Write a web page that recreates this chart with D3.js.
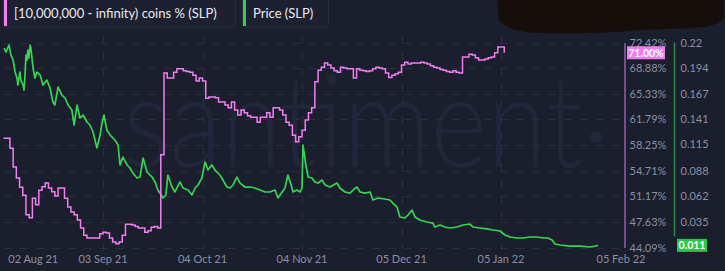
<!DOCTYPE html>
<html>
<head>
<meta charset="utf-8">
<script src="https://cdn.jsdelivr.net/npm/d3@7"></script>
<style>
html, body { margin: 0; padding: 0; background: #1b1e2c; }
svg { display: block; }
text { font-family: Lato, "Open Sans", sans-serif; }
</style>
</head>
<body>
<svg id="chart" width="725" height="271"></svg>
<script>
const svg = d3.select("#chart");
const width = +svg.attr("width");
const height = +svg.attr("height");

// daily share of supply held by [10,000,000 - infinity) wallets, from 2021-08-03
const coinPctStart = "2021-08-03";
const coinPct = [
    59.2, 59.2, 57.8, 55.2, 53.7, 52.4, 51.3, 48.6, 48.2, 50.9,
    50.0, 52.0, 52.5, 53.0, 52.3, 51.8, 51.2, 52.3, 52.3, 50.9,
    49.7, 49.0, 48.6, 47.9, 46.8, 45.8, 45.4, 45.4, 45.4, 45.4,
    46.0, 46.2, 46.1, 45.4, 44.85, 44.6, 44.85, 45.8, 47.3, 47.3,
    47.2, 47.0, 46.8, 46.8, 46.2, 46.4, 46.9, 47.0, 46.8, 56.9,
    68.2, 67.5, 67.5, 68.3, 68.8, 68.8, 68.5, 68.4, 68.3, 67.9,
    67.1, 67.5, 67.1, 64.7, 64.9, 64.9, 64.8, 64.2, 64.2, 63.8,
    63.4, 64.2, 63.1, 62.4, 63.1, 62.7, 62.3, 62.1, 62.1, 61.4,
    62.1, 62.1, 62.7, 62.1, 63.4, 63.4, 63.1, 62.4, 61.4, 61.0,
    59.6, 58.7, 59.4, 60.3, 61.7, 62.7, 63.4, 67.0, 68.6, 69.0,
    69.6, 69.3, 68.9, 68.5, 68.3, 69.0, 68.9, 68.8, 68.8, 67.5,
    68.8, 68.6, 68.5, 68.4, 68.5, 68.8, 69.0, 68.9, 68.8, 68.2,
    67.6, 67.9, 68.1, 68.3, 69.3, 69.7, 69.45, 69.6, 69.6, 69.6,
    69.7, 69.6, 69.45, 69.2, 69.0, 68.9, 68.7, 68.6, 68.4, 68.3,
    68.5, 68.3, 68.2, 70.4, 70.4, 70.8, 70.7, 70.3, 70.0, 70.0,
    70.15, 70.3, 70.4, 71.0, 71.8, 71.8, 71.0
];

// price samples: days after 2021-08-02, and SLP price in USD
const priceStart = "2021-08-02";
const priceDay = [
    1.15, 1.8, 2.7, 3.3, 4.0, 4.6, 5.2, 5.5, 6.1, 6.4,
    7.1, 7.4, 7.7, 8.0, 8.3, 8.6, 8.9, 9.3, 9.6, 10.2,
    10.8, 11.4, 12.4, 13.3, 14.5, 15.5, 16.4, 17.0, 18.0, 19.2,
    20.2, 21.1, 22.3, 23.0, 23.9, 24.8, 25.8, 27.0, 27.9, 28.9,
    30.1, 31.1, 31.7, 32.3, 33.2, 34.2, 35.7, 36.7, 37.3, 38.2,
    39.5, 40.4, 41.3, 42.6, 43.5, 44.5, 45.7, 47.3, 48.2, 49.1,
    50.7, 51.6, 52.2, 53.5, 54.4, 56.0, 56.9, 58.5, 59.7, 60.7,
    61.6, 62.8, 63.8, 64.7, 65.9, 66.9, 68.4, 69.4, 70.6, 71.6,
    72.5, 73.7, 74.7, 76.2, 77.8, 79.3, 80.9, 82.5, 84.0, 85.6,
    86.5, 87.8, 88.7, 89.6, 90.6, 91.2, 92.4, 93.4, 94.0, 94.3,
    95.2, 95.9, 97.1, 98.0, 99.0, 100.2, 101.2, 102.7, 104.9, 105.8,
    107.4, 108.9, 109.9, 111.1, 112.1, 113.6, 115.2, 116.1, 117.7, 119.8,
    121.4, 122.3, 123.6, 124.5, 126.1, 127.0, 128.3, 129.2, 130.7, 132.9,
    134.8, 135.4, 137.0, 138.5, 140.1, 142.3, 144.1, 146.3, 147.3, 149.4,
    151.6, 153.5, 155.7, 157.2, 158.8, 161.0, 162.8, 165.0, 167.2, 169.1,
    170.6, 171.9, 172.8, 174.4, 177.5, 180.6, 183.7, 185.3, 186.2
];
const priceValue = [
    0.2143, 0.2102, 0.2174, 0.2071, 0.2019, 0.1896, 0.1834, 0.1762, 0.1896, 0.1813,
    0.1762, 0.1710, 0.1865, 0.2071, 0.2019, 0.2122, 0.2040, 0.2174, 0.2122, 0.1937,
    0.1834, 0.1896, 0.1865, 0.1762, 0.1813, 0.1731, 0.1587, 0.1556, 0.1741, 0.1659,
    0.1628, 0.1556, 0.1504, 0.1350, 0.1556, 0.1422, 0.1453, 0.1381, 0.1350, 0.1278,
    0.1113, 0.1247, 0.1371, 0.1453, 0.1298, 0.1247, 0.1195, 0.1144, 0.0938, 0.1020,
    0.0938, 0.0907, 0.0855, 0.0804, 0.0814, 0.1010, 0.0866, 0.0814, 0.0763, 0.0680,
    0.0598, 0.0629, 0.0835, 0.0711, 0.0660, 0.0763, 0.0701, 0.0680, 0.0629, 0.0701,
    0.0732, 0.0804, 0.0969, 0.0886, 0.0938, 0.0886, 0.0835, 0.0783, 0.0711, 0.0701,
    0.0732, 0.0814, 0.0752, 0.0711, 0.0711, 0.0701, 0.0680, 0.0660, 0.0660, 0.0680,
    0.0598, 0.0660, 0.0701, 0.0835, 0.0732, 0.0660, 0.0680, 0.0660, 0.0701, 0.1144,
    0.0938, 0.0814, 0.0804, 0.0763, 0.0752, 0.0783, 0.0732, 0.0711, 0.0752, 0.0701,
    0.0660, 0.0649, 0.0680, 0.0711, 0.0660, 0.0649, 0.0660, 0.0577, 0.0598, 0.0588,
    0.0577, 0.0546, 0.0505, 0.0402, 0.0392, 0.0423, 0.0474, 0.0402, 0.0371, 0.0351,
    0.0340, 0.0299, 0.0320, 0.0299, 0.0289, 0.0299, 0.0320, 0.0330, 0.0299, 0.0289,
    0.0279, 0.0268, 0.0258, 0.0217, 0.0196, 0.0186, 0.0186, 0.0196, 0.0196, 0.0186,
    0.0186, 0.0165, 0.0124, 0.0114, 0.0103, 0.0103, 0.0093, 0.0103, 0.0110
];

const dateTicks = ["2021-08-02", "2021-09-03", "2021-10-04", "2021-11-04", "2021-12-05", "2022-01-05", "2022-02-05"];
const pctTicks = [44.09, 47.63, 51.17, 54.71, 58.25, 61.79, 65.33, 68.88, 72.42];
const priceTicks = ["0.035", "0.062", "0.088", "0.115", "0.141", "0.167", "0.194", "0.22"];
const lastPct = 71.00;
const lastPrice = 0.011;

const legendItems = [
    { label: "[10,000,000 - infinity) coins % (SLP)", color: "#f07ef0", x: 3, w: 232 },
    { label: "Price (SLP)", color: "#2fd14f", x: 242, w: 86 }
];

const pink = "#f27ef2";
const green = "#35d552";
const grid = "#2a2e41";
const tickText = "#8a90a5";

const parse = d3.utcParse("%Y-%m-%d");
const DAY = 864e5;

const plotLeft = 4, plotRight = 622;
const x = d3.scaleUtc()
    .domain([parse("2021-08-02"), parse("2022-02-12")])
    .range([0.3, 623]);
const yPct = d3.scaleLinear().domain([44.09, 72.42]).range([247.5, 42.5]);
const yPrice = d3.scaleLinear().domain([0.0088, 0.22]).range([247.5, 42.5]);

const pctData = coinPct.map((v, i) => ({ date: new Date(+parse(coinPctStart) + i * DAY), v }));
const priceData = priceDay.map((d, i) => ({ date: new Date(+parse(priceStart) + d * DAY), v: priceValue[i] }));

// background
svg.append("rect").attr("width", width).attr("height", height).attr("fill", "#1b1e2c");

// watermark: fit the word between x=123 and x=583, then stretch it up
const wm = svg.append("g").attr("fill", "#22263a");
const wmText = wm.append("text")
    .attr("font-size", 100)
    .attr("font-weight", 300)
    .text("santiment");
const natural = wmText.node().getComputedTextLength();
const wmSize = 100 * 460 / natural;
wmText.attr("font-size", wmSize)
    .attr("transform", `translate(123,167) scale(1,${(65 / (wmSize * 0.51)).toFixed(3)})`);
wm.append("circle").attr("cx", 596).attr("cy", 137).attr("r", 6);

// horizontal grid
svg.append("g")
    .selectAll("line")
    .data(pctTicks)
    .join("line")
    .attr("x1", plotLeft).attr("x2", plotRight)
    .attr("y1", d => Math.round(yPct(d)) + 0.5)
    .attr("y2", d => Math.round(yPct(d)) + 0.5)
    .attr("stroke", grid)
    .attr("stroke-dasharray", "8,8");

// vertical grid (inner months)
svg.append("g")
    .selectAll("line")
    .data(dateTicks.slice(1, -1))
    .join("line")
    .attr("x1", d => Math.round(x(parse(d))) + 0.5)
    .attr("x2", d => Math.round(x(parse(d))) + 0.5)
    .attr("y1", 36).attr("y2", 250)
    .attr("stroke", grid)
    .attr("stroke-dasharray", "8,8");

// lines
svg.append("path")
    .datum(priceData)
    .attr("fill", "none")
    .attr("stroke", green)
    .attr("stroke-width", 1.7)
    .attr("stroke-linejoin", "round")
    .attr("d", d3.line().x(d => x(d.date)).y(d => yPrice(d.v)));

svg.append("path")
    .datum(pctData)
    .attr("fill", "none")
    .attr("stroke", pink)
    .attr("stroke-width", 1.5)
    .attr("d", d3.line().curve(d3.curveStepAfter).x(d => x(d.date)).y(d => yPct(d.v)));

// x axis labels
const fmt = d3.utcFormat("%d %b %y");
svg.append("g")
    .selectAll("text")
    .data(dateTicks)
    .join("text")
    .attr("x", (d, i) => {
        const px = x(parse(d));
        if (i === 0) return px + 8;
        if (i === dateTicks.length - 1) return px - 4;
        return px;
    })
    .attr("y", 263)
    .attr("text-anchor", (d, i) => (i === 0 || i === dateTicks.length - 1) ? "start" : "middle")
    .attr("font-size", 11)
    .attr("fill", tickText)
    .text(d => fmt(parse(d)));

// pink axis
const pctAxis = d3.axisRight(yPct).tickValues(pctTicks).tickSize(0).tickPadding(5)
    .tickFormat(d => d.toFixed(2) + "%");
const gPct = svg.append("g").attr("transform", "translate(624.5,0)").call(pctAxis);
gPct.select(".domain").attr("stroke", "#9b5aa9").attr("stroke-width", 1.5);
gPct.selectAll("text").attr("fill", tickText).attr("font-size", 11)
    .attr("font-family", "Lato, 'Open Sans', sans-serif");

// price axis
const priceAxis = d3.axisRight(yPrice).tickValues(priceTicks.map(Number)).tickSize(0).tickPadding(6)
    .tickFormat((d, i) => priceTicks[i]);
const gPrice = svg.append("g").attr("transform", "translate(674.5,0)").call(priceAxis);
gPrice.select(".domain").attr("stroke", "#2b8d4a").attr("stroke-width", 1.5)
    .attr("d", `M0,${yPrice.range()[1]}V${yPrice(lastPrice) - 9}`);
gPrice.selectAll("text").attr("fill", tickText).attr("font-size", 11)
    .attr("font-family", "Lato, 'Open Sans', sans-serif");

// current value badges
function badge(px, py, w, fill, label) {
    const b = svg.append("g");
    b.append("rect").attr("x", px).attr("y", py - 6.5).attr("width", w).attr("height", 13)
        .attr("fill", fill);
    b.append("text").attr("x", px + w / 2).attr("y", py + 4)
        .attr("text-anchor", "middle").attr("font-size", 10.5).attr("font-weight", 700)
        .attr("fill", "#ffffff").text(label);
}
badge(627, yPct(lastPct), 38, "#ee7bf0", lastPct.toFixed(2) + "%");
badge(677, yPrice(lastPrice), 30, "#26c94a", lastPrice.toFixed(3));

// legend
const lg = svg.append("g")
    .selectAll("g")
    .data(legendItems)
    .join("g")
    .attr("transform", d => `translate(${d.x},0)`);
lg.append("rect").attr("x", 0.5).attr("y", -3).attr("width", d => d.w).attr("height", 30)
    .attr("rx", 3).attr("fill", "#1d2031").attr("stroke", "#2a2d3f");
lg.append("rect").attr("x", 1).attr("y", 0).attr("width", 3).attr("height", 26)
    .attr("fill", d => d.color);
lg.append("text").attr("x", 11).attr("y", 17.5).attr("font-size", 13)
    .attr("fill", "#e8eaf0").text(d => d.label);

// redaction scribble at top right
svg.append("path")
    .attr("d", "M497,0 L724,0 L724,17 Q719,27 692,28 L640,30 Q600,34 545,33 Q508,33 499,20 Z")
    .attr("fill", "#150e0b");
</script>
</body>
</html>
